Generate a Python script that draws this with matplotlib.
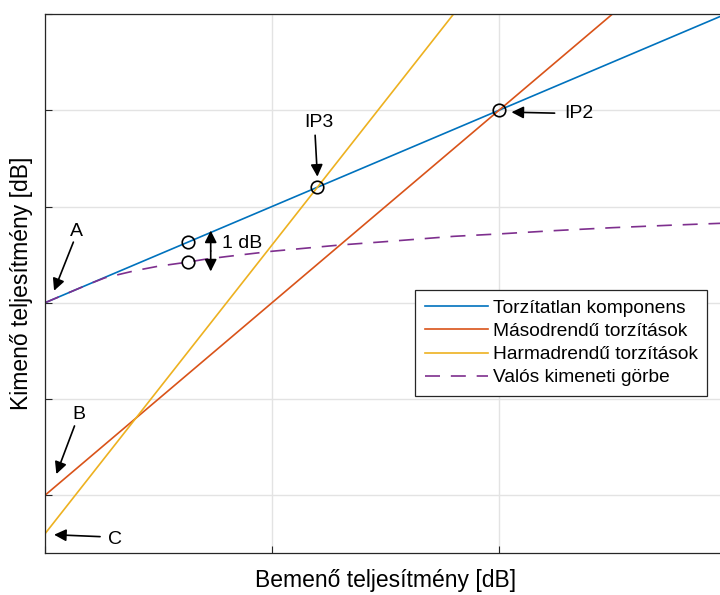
import matplotlib.pyplot as plt

# Input power [dB] and the three ideal components
p_in = [0, 60]
fundamental = [0, 60]
second_order = [-40, 80]
third_order = [-48, 132]

real_x = [0, 2, 4, 5.3, 6.2, 8, 10, 12.6, 14, 16, 20, 26, 30, 36, 40, 45, 50, 55, 60]
real_y = [0, 2, 4, 5.2, 5.7, 6.7, 7.6, 8.45, 9.0, 9.6, 10.7, 12.0, 12.7, 13.8, 14.3, 15.0, 15.6, 16.1, 16.55]

# Marked points: 1 dB compression pair, IP3, IP2
mark_x = [12.6, 12.6, 24, 40]
mark_y = [12.6, 8.45, 24, 40]

labels = ['Torzítatlan komponens', 'Másodrendű torzítások',
          'Harmadrendű torzítások', 'Valós kimeneti görbe']
colors = ['#0072BD', '#D95319', '#EDB120', '#7E2F8E']

plt.rcParams['font.family'] = ['Liberation Sans', 'DejaVu Sans']

fig = plt.figure(figsize=(7.2, 5.95), dpi=100)
ax = fig.add_axes([45 / 720, 42 / 595, 681 / 720, 539 / 595])

ax.plot(p_in, fundamental, color=colors[0], lw=1.2, label=labels[0])
ax.plot(p_in, second_order, color=colors[1], lw=1.2, label=labels[1])
ax.plot(p_in, third_order, color=colors[2], lw=1.2, label=labels[2])
ax.plot(real_x, real_y, color=colors[3], lw=1.2, dashes=(9, 6.5), label=labels[3])
ax.plot(mark_x, mark_y, 'o', ms=9, mfc='none', mec='black', mew=1.2, zorder=5)

ax.set_xlim(0, 60)
ax.set_ylim(-52, 60)
ax.set_xticks([0, 20, 40, 60])
ax.set_yticks([-40, -20, 0, 20, 40, 60])
ax.set_xticklabels([])
ax.set_yticklabels([])
ax.tick_params(direction='in', length=5, width=0.8, color='#262626')
ax.grid(True, color='#e3e3e3', lw=1)
ax.set_axisbelow(True)
for s in ax.spines.values():
    s.set_color('#262626')
    s.set_linewidth(0.9)

ax.set_xlabel('Bemenő teljesítmény [dB]', fontsize=16.5, labelpad=8)
ax.set_ylabel('Kimenő teljesítmény [dB]', fontsize=16.5, labelpad=5)


def arrow():
    return dict(arrowstyle='-|>', color='black', lw=1.2, mutation_scale=18, shrinkA=0, shrinkB=0)


ax.annotate('', xy=(0.8, 2.5), xytext=(2.5, 12.6), arrowprops=arrow())
ax.text(2.8, 14.8, 'A', fontsize=14, ha='center', va='center')
ax.annotate('', xy=(1.0, -35.6), xytext=(2.6, -25.6), arrowprops=arrow())
ax.text(2.95, -23.2, 'B', fontsize=14, ha='center', va='center')
ax.annotate('', xy=(0.8, -48.2), xytext=(4.85, -48.6), arrowprops=arrow())
ax.text(6.2, -49.1, 'C', fontsize=14, ha='center', va='center')
ax.annotate('', xy=(24.0, 26.2), xytext=(23.8, 34.8), arrowprops=arrow())
ax.text(24.1, 37.4, 'IP3', fontsize=14, ha='center', va='center')
ax.annotate('', xy=(41.1, 39.6), xytext=(44.9, 39.4), arrowprops=arrow())
ax.text(47.0, 39.3, 'IP2', fontsize=14, ha='center', va='center')
ax.annotate('', xy=(14.6, 15.0), xytext=(14.6, 10.75), arrowprops=arrow())
ax.annotate('', xy=(14.6, 6.5), xytext=(14.6, 10.75), arrowprops=arrow())
ax.text(15.6, 12.4, '1 dB', fontsize=14, ha='left', va='center')

leg = ax.legend(loc='upper left', bbox_to_anchor=(415 / 720, 1 - 290 / 595),
                bbox_transform=fig.transFigure, fontsize=13.8, frameon=True,
                fancybox=False, edgecolor='#262626', framealpha=1,
                handlelength=3.3, handletextpad=0.25, labelspacing=0.3,
                borderpad=0.5, borderaxespad=0)
leg.get_frame().set_linewidth(0.9)

fig.savefig('out.png', dpi=100)
